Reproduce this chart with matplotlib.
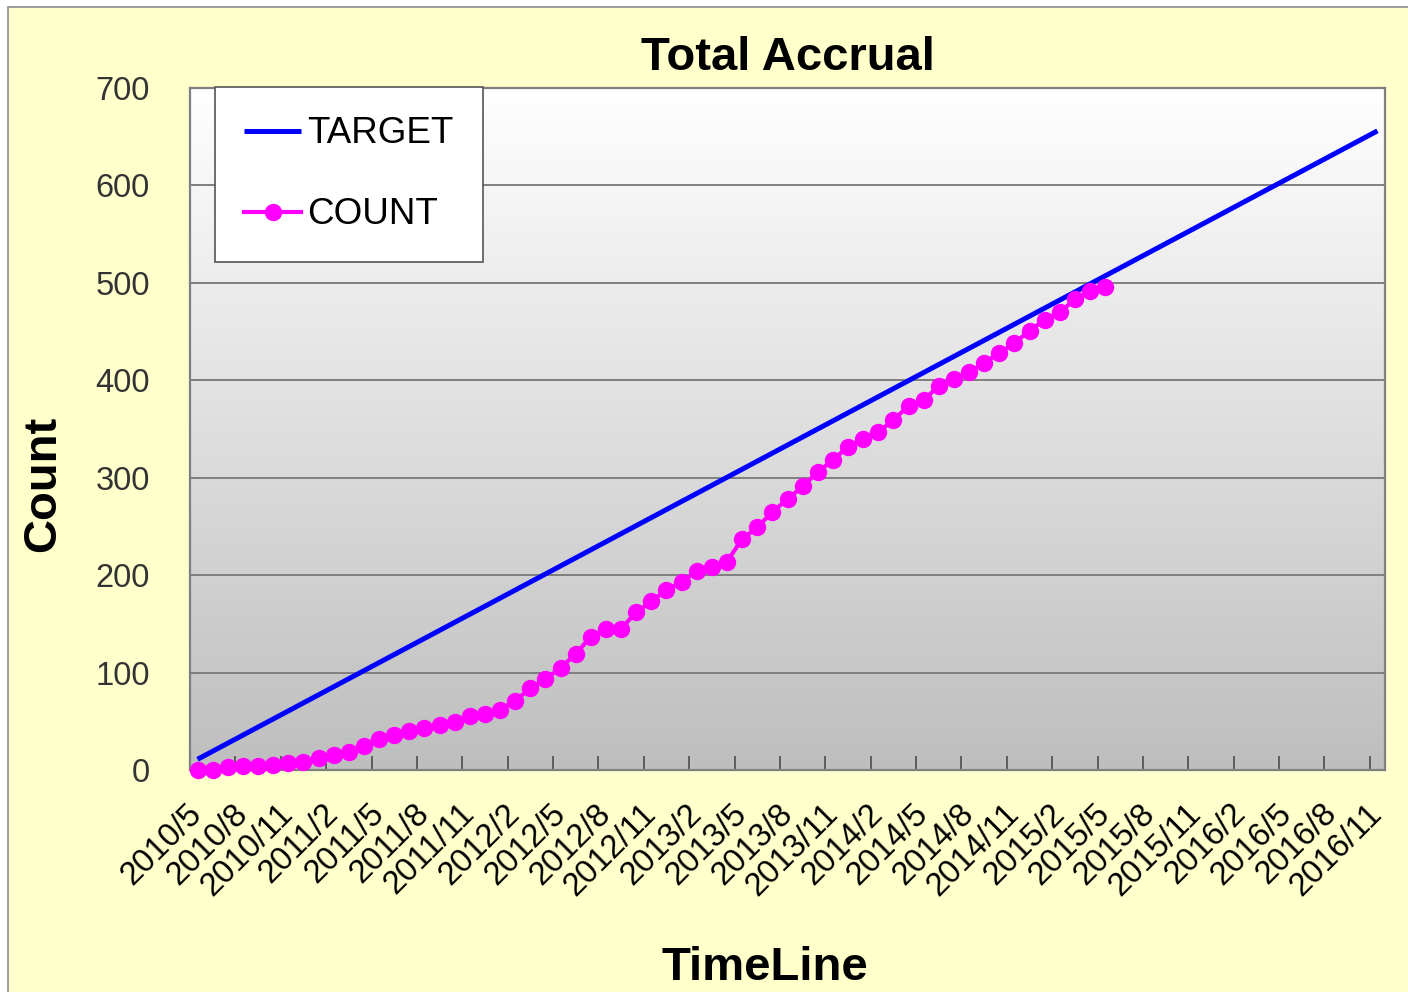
import matplotlib
matplotlib.use("Agg")
import matplotlib.pyplot as plt
from matplotlib.colors import LinearSegmentedColormap
from matplotlib.patches import Rectangle
import numpy as np

plt.rcParams['font.family'] = ['Liberation Sans', 'DejaVu Sans']

# monthly categories 2010/5 .. 2016/11
months = [f"{2010 + (4 + i) // 12}/{(4 + i) % 12 + 1}" for i in range(79)]

tick_labels = ["2010/5", "2010/8", "2010/11", "2011/2", "2011/5", "2011/8", "2011/11",
               "2012/2", "2012/5", "2012/8", "2012/11", "2013/2", "2013/5", "2013/8",
               "2013/11", "2014/2", "2014/5", "2014/8", "2014/11", "2015/2", "2015/5",
               "2015/8", "2015/11", "2016/2", "2016/5", "2016/8", "2016/11"]

# accrual count, one value per month from 2010/5
count = [0, 0, 3, 4, 4, 5, 7, 8, 12, 15,
         18, 25, 32, 36, 40, 43, 46, 49, 55, 57,
         62, 71, 84, 93, 105, 119, 137, 145, 145, 162,
         173, 185, 193, 204, 208, 214, 237, 249, 265, 278,
         291, 306, 318, 332, 340, 347, 359, 374, 380, 394,
         401, 408, 418, 428, 438, 451, 462, 470, 483, 492,
         496]

# target is a straight line
target_months = ["2010/5", "2016/11"]
target_values = [11, 656]

W, H = 1408, 992
fig = plt.figure(figsize=(W / 100, H / 100), dpi=100, facecolor='white')
bg = Rectangle((8 / W, -0.02), 1.05, 1.02 - 7 / H, transform=fig.transFigure,
               facecolor='#FFFFCC', edgecolor='#8c8c8c', lw=1.2, zorder=-10)
fig.add_artist(bg)

ax = fig.add_axes([190 / W, 222 / H, 1195 / W, 682 / H])

# gradient plot area, white on top to grey at bottom
cmap = LinearSegmentedColormap.from_list('bg', ['#BEBEBE', '#FFFFFF'])
grad = np.linspace(1, 0, 256).reshape(-1, 1)
ax.imshow(grad, extent=[0, 1, 0, 1], transform=ax.transAxes, aspect='auto',
          cmap=cmap, origin='upper', zorder=-2)

tx = [months.index(m) for m in target_months]
cx = list(range(len(count)))

ax.plot(tx, target_values, color='#0000FF', lw=3.6, label='TARGET', zorder=3,
        solid_capstyle='butt')
ax.plot(cx, count, color='#FF00FF', lw=3, marker='o', ms=11.5, label='COUNT',
        clip_on=False, zorder=4)

ax.set_xlim(-0.5, len(months) - 0.5)
ax.set_ylim(0, 700)

ax.set_axisbelow(True)
ax.yaxis.grid(True, color='#7f7f7f', lw=1.4)
for s in ax.spines.values():
    s.set_color('#7f7f7f')
    s.set_linewidth(1.6)

ax.set_yticks(range(0, 701, 100))
ax.tick_params(axis='y', direction='in', length=7, color='#7f7f7f', width=1.4,
               labelsize=23.5, labelcolor='#333333', pad=29)

ax.set_xticks([months.index(m) for m in tick_labels])
ax.set_xticklabels(tick_labels, rotation=45, ha='right', va='center', rotation_mode='anchor')
ax.set_xticks(np.arange(-0.5, len(months), 3), minor=True)
ax.tick_params(axis='x', which='major', length=0, labelsize=23.5, pad=28)
ax.tick_params(axis='x', which='minor', direction='in', length=10, color='#555555', width=1.3)

leg = ax.legend(loc='upper left', bbox_to_anchor=(215 / W, 1 - 87 / H),
                bbox_transform=fig.transFigure, borderaxespad=0, frameon=True,
                fancybox=False, framealpha=1, edgecolor='#555555', fontsize=26.5,
                handlelength=1.55, handletextpad=0.15, labelspacing=1.25,
                borderpad=0.8, markerscale=1.0)
leg.get_frame().set_linewidth(1.2)

fig.text(787.5 / W, 1 - 70 / H, 'Total Accrual', ha='center', va='baseline',
         fontsize=34, fontweight='bold')
fig.text(43 / W, 1 - 484 / H, 'Count', rotation=90, ha='center', va='center',
         fontsize=34, fontweight='bold')
fig.text(765 / W, 1 - 980 / H, 'TimeLine', ha='center', va='baseline',
         fontsize=34, fontweight='bold')

fig.savefig('out.png', dpi=100, facecolor=fig.get_facecolor())
